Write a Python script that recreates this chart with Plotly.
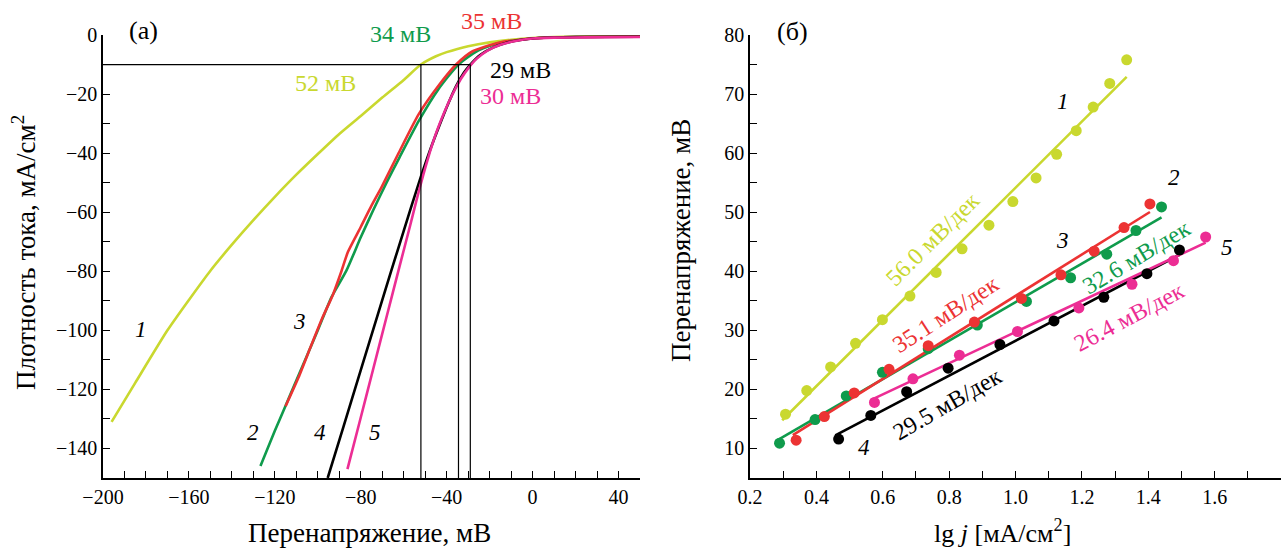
import plotly.graph_objects as go

W, H = 1282, 551

# ---------------- Panel (a): polarization curves ----------------
c1_x = [-196, -185, -170, -160, -150, -140, -130, -120, -110, -100, -90, -80, -70, -60, -52, -45, -40, -35, -30, -20, -10, 0, 10, 20, 30, 40, 50]
c1_y = [-131, -117.8, -100, -89.7, -79.8, -71, -62.7, -54.8, -47.3, -40.3, -33.5, -27.4, -21.2, -15.2, -10, -7.2, -5.8, -4.7, -3.8, -2.5, -1.6, -1.0, -0.7, -0.6, -0.5, -0.5, -0.5]

c2_x = [-126.7, -120, -115.1, -110, -105, -100, -93.5, -86.7, -80, -74, -68, -62, -53, -44, -34.5, -26, -16, -5, 3, 20, 50]
c2_y = [-145.9, -134, -125.7, -117, -108.5, -100, -88.6, -79.8, -68.5, -59, -50, -41.5, -29.1, -18.5, -10, -5.5, -2.8, -1.5, -1.0, -0.7, -0.5]

c3_x = [-115, -109, -103, -98, -93, -89, -86, -80, -75, -70.3, -62.6, -53, -43.3, -35.6, -27.9, -16.3, -5, 3, 20, 50]
c3_y = [-125.7, -116, -105, -96, -88, -80, -73.5, -65, -57.8, -51.5, -40.3, -26.8, -16.7, -10, -5.5, -2.7, -1.5, -1.0, -0.7, -0.5]

c4_x = [-95.4, -88, -80, -72, -66, -60, -56, -52, -48, -43.3, -39.5, -35.6, -32, -29, -24.1, -18, -12.5, -5, 3, 20, 50]
c4_y = [-150, -132.5, -113.5, -94.5, -80.3, -66.3, -57, -48, -39.5, -30.5, -23.6, -17.3, -12.8, -10, -6.6, -4.1, -2.7, -1.6, -1.0, -0.7, -0.6]

c5_x = [-86.2, -80, -74, -68, -62, -57, -53, -49, -45.3, -41, -37.6, -33.5, -30, -26, -21, -15, -8, 0, 10, 25, 50]
c5_y = [-147, -129.5, -112.5, -95.5, -78.5, -64.5, -53, -42.5, -34, -26, -20.5, -15, -11.3, -8, -5.3, -3.3, -2.0, -1.2, -0.9, -0.8, -0.7]

j_level = -10                 # mA/cm2 reference current density
drop_x = [-52, -34.5, -29]    # overpotentials at j_level
eta_labels = ["52 мВ", "34 мВ", "35 мВ", "29 мВ", "30 мВ"]

# ---------------- Panel (б): Tafel plots ----------------
t1_x = [0.307, 0.371, 0.443, 0.518, 0.599, 0.682, 0.761, 0.839, 0.920, 0.992, 1.062, 1.124, 1.183, 1.234, 1.284, 1.335]
t1_y = [15.8, 19.8, 23.8, 27.8, 31.8, 35.8, 39.8, 43.8, 47.8, 51.8, 55.8, 59.8, 63.8, 67.8, 71.8, 75.8]

t2_x = [0.289, 0.396, 0.490, 0.599, 0.737, 0.885, 1.033, 1.166, 1.275, 1.363, 1.440]
t2_y = [10.9, 14.9, 18.9, 22.9, 26.9, 30.9, 34.9, 38.9, 42.9, 46.9, 50.9]

t3_x = [0.339, 0.424, 0.514, 0.619, 0.737, 0.876, 1.018, 1.137, 1.237, 1.327, 1.405]
t3_y = [11.4, 15.4, 19.4, 23.4, 27.4, 31.4, 35.4, 39.4, 43.4, 47.4, 51.4]

t4_x = [0.467, 0.564, 0.672, 0.797, 0.953, 1.116, 1.266, 1.396, 1.494]
t4_y = [11.6, 15.6, 19.6, 23.6, 27.6, 31.6, 35.6, 39.6, 43.6]

t5_x = [0.575, 0.691, 0.831, 1.006, 1.191, 1.351, 1.476, 1.573]
t5_y = [17.8, 21.8, 25.8, 29.8, 33.8, 37.8, 41.8, 45.8]

tafel_slopes = [56.0, 32.6, 35.1, 29.5, 26.4]
tafel_intercepts = [-1.86, 2.17, 0.72, -1.28, 3.32]
slope_labels = ["56.0 мВ/дек", "32.6 мВ/дек", "35.1 мВ/дек", "29.5 мВ/дек", "26.4 мВ/дек"]

colors = ["#c9d82f", "#0f9b4c", "#ec3333", "#000000", "#ec2d94"]

FONT = "Liberation Serif"

# ---------------- layout helpers (pixel -> paper) ----------------
def px(x):
    return x / W

def py(y):
    return 1 - y / H

L1, R1 = 103, 640
L2, R2 = 750, 1281
TOP, BOT = 35, 478

fig = go.Figure()

# panel (a) curves
curves = [(c1_x, c1_y), (c2_x, c2_y), (c3_x, c3_y), (c4_x, c4_y), (c5_x, c5_y)]
for i in [0, 1, 2, 3, 4]:
    cx, cy = curves[i]
    fig.add_trace(go.Scatter(x=cx, y=cy, mode="lines",
                             line=dict(color=colors[i], width=2.6, shape="spline", smoothing=0.6),
                             xaxis="x", yaxis="y", showlegend=False, hoverinfo="skip"))

# reference lines
fig.add_trace(go.Scatter(x=[-200, max(drop_x)], y=[j_level, j_level], mode="lines",
                         line=dict(color="black", width=1.2), xaxis="x", yaxis="y",
                         showlegend=False, hoverinfo="skip"))
for dx in drop_x:
    fig.add_trace(go.Scatter(x=[dx, dx], y=[j_level, -150], mode="lines",
                             line=dict(color="black", width=1.2), xaxis="x", yaxis="y",
                             showlegend=False, hoverinfo="skip"))

# panel (б): fits + points
tafel = [(t1_x, t1_y), (t2_x, t2_y), (t3_x, t3_y), (t4_x, t4_y), (t5_x, t5_y)]
for i, (tx, ty) in enumerate(tafel):
    x0, x1 = min(tx) - 0.01, max(tx)
    fx = [x0, x1]
    fy = [tafel_slopes[i] * v + tafel_intercepts[i] for v in fx]
    fig.add_trace(go.Scatter(x=fx, y=fy, mode="lines", line=dict(color=colors[i], width=2.6),
                             xaxis="x2", yaxis="y2", showlegend=False, hoverinfo="skip"))
for i, (tx, ty) in enumerate(tafel):
    fig.add_trace(go.Scatter(x=tx, y=ty, mode="markers", marker=dict(color=colors[i], size=11),
                             xaxis="x2", yaxis="y2", showlegend=False, hoverinfo="skip",
                             cliponaxis=False))

tickfont = dict(family=FONT, size=20, color="black")
minor_common = dict(ticks="inside", ticklen=7, tickwidth=1.3, tickcolor="black")
axis_common = dict(showline=True, linecolor="black", linewidth=1.5, ticks="inside",
                   ticklen=7, tickwidth=1.3, tickcolor="black", showgrid=False,
                   zeroline=False, mirror=False, tickfont=tickfont, automargin=False)

fig.update_layout(
    template="none",
    width=W, height=H,
    margin=dict(l=0, r=0, t=0, b=0, pad=0),
    paper_bgcolor="white", plot_bgcolor="white",
    xaxis=dict(domain=[px(L1), px(R1)], range=[-200, 50], tick0=-200, dtick=40,
               minor=dict(dtick=10, tick0=-200, **minor_common), anchor="y", **axis_common),
    yaxis=dict(domain=[py(BOT), py(TOP)], range=[-150, 0], tick0=0, dtick=20,
               minor=dict(dtick=10, tick0=0, **minor_common), anchor="x", **axis_common),
    xaxis2=dict(domain=[px(L2), px(R2)], range=[0.2, 1.8], tick0=0.2, dtick=0.2, tickformat=".1f",
                minor=dict(dtick=0.1, tick0=0.2, **minor_common), anchor="y2", **axis_common),
    yaxis2=dict(domain=[py(BOT), py(TOP)], range=[5, 80], tick0=0, dtick=10,
                minor=dict(dtick=5, tick0=0, **minor_common), anchor="x2", **axis_common),
)

ann = []
def text(x, y, s, color="black", size=24, xref="paper", yref="paper", angle=0, italic=False):
    ann.append(dict(x=x, y=y, xref=xref, yref=yref, text=(f"<i>{s}</i>" if italic else s),
                    showarrow=False, textangle=angle, xanchor="center", yanchor="middle",
                    font=dict(family=FONT, size=size, color=color)))

# axis titles
text(px(24), py(253), "Плотность тока, мА/см<sup>2</sup>", size=27, angle=-90)
text(px(369), py(533), "Перенапряжение, мВ", size=27)
text(px(681), py(241), "Перенапряжение, мВ", size=27, angle=-90)
text(px(1003), py(531), "lg <i>j</i> [мА/см<sup>2</sup>]", size=26)

# panel tags
text(px(143), py(31), "(a)", size=26)
text(px(792), py(32), "(б)", size=26)

# panel (a) labels (above the plot top -> paper coordinates)
text(-96.4, -16.2, eta_labels[0], color=colors[0], xref="x", yref="y")
text(px(400), py(34), eta_labels[1], color=colors[1])
text(px(491), py(21), eta_labels[2], color=colors[2])
text(-5.7, -11.7, eta_labels[3], color=colors[3], xref="x", yref="y")
text(-10.5, -20.7, eta_labels[4], color=colors[4], xref="x", yref="y")
for s, xx, yy in [("1", -182.2, -99.8), ("3", -108.5, -97.0), ("2", -130.2, -134.6),
                  ("4", -98.9, -134.6), ("5", -73.2, -134.6)]:
    text(xx, yy, s, xref="x", yref="y", italic=True, size=23)

# panel (б) labels
text(0.75, 45.5, slope_labels[0], color=colors[0], xref="x2", yref="y2", angle=-45)
text(1.365, 42.4, slope_labels[1], color=colors[1], xref="x2", yref="y2", angle=-31)
text(0.79, 32.8, slope_labels[2], color=colors[2], xref="x2", yref="y2", angle=-33)
text(0.794, 17.5, slope_labels[3], color=colors[3], xref="x2", yref="y2", angle=-30)
text(1.342, 32.2, slope_labels[4], color=colors[4], xref="x2", yref="y2", angle=-28)
for s, xx, yy in [("1", 1.142, 68.8), ("2", 1.479, 55.9), ("3", 1.142, 45.2),
                  ("4", 0.542, 10.1), ("5", 1.638, 44.1)]:
    text(xx, yy, s, xref="x2", yref="y2", italic=True, size=23)

fig.update_layout(annotations=ann)
fig.write_html("out.html")
